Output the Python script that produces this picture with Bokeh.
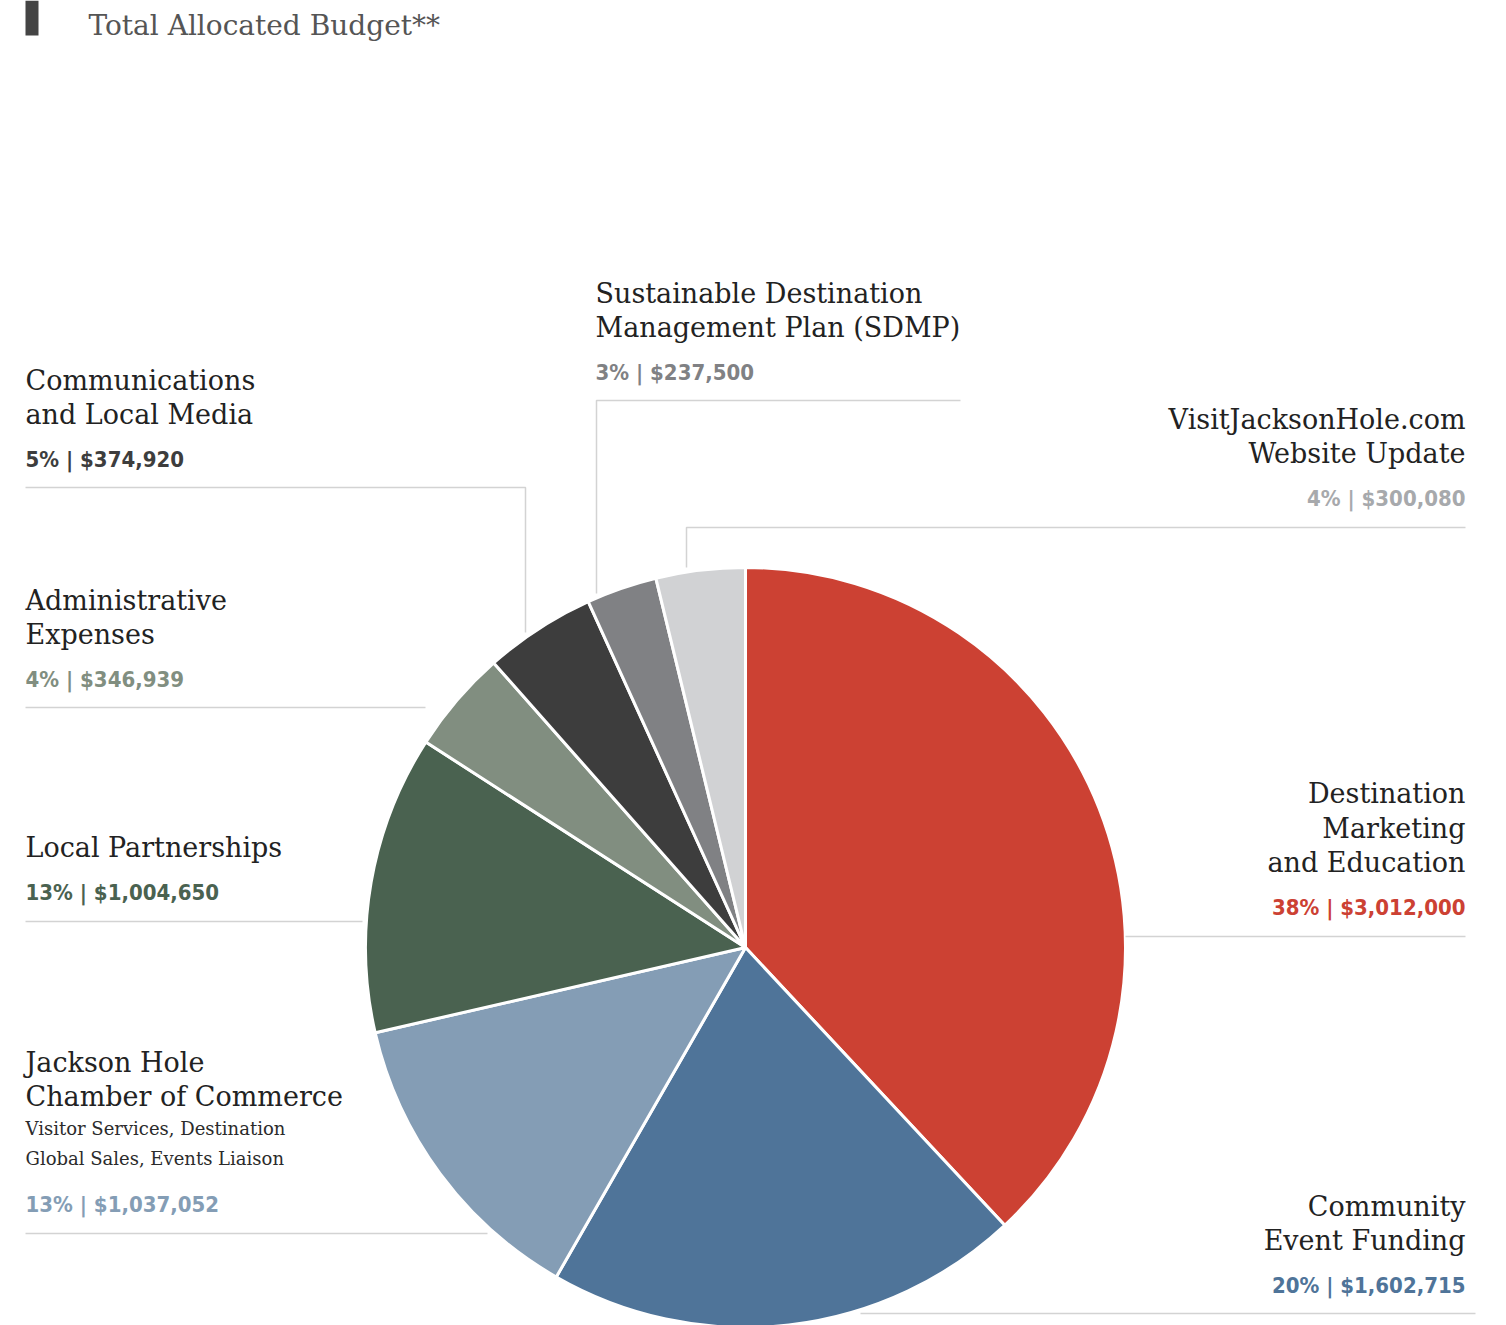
import numpy as np
from bokeh.plotting import figure
from bokeh.models import Range1d, ColumnDataSource
from bokeh.core.properties import value
from bokeh.embed import file_html
from bokeh.resources import INLINE

# ---- data -------------------------------------------------------------
categories = [
    "Destination Marketing and Education",
    "Community Event Funding",
    "Jackson Hole Chamber of Commerce",
    "Local Partnerships",
    "Administrative Expenses",
    "Communications and Local Media",
    "Sustainable Destination Management Plan (SDMP)",
    "VisitJacksonHole.com Website Update",
]
amounts = [3012000, 1602715, 1037052, 1004650, 346939, 374920, 237500, 300080]
slice_colors = ["#cc4133", "#4f7499", "#849db5", "#4a6250",
                "#818e80", "#3d3d3d", "#808184", "#d1d2d4"]
value_colors = ["#cc4133", "#4f7499", "#849db5", "#4a6250",
                "#818e80", "#3d3d3d", "#808184", "#a7a9ac"]
title_lines = [
    ["Destination", "Marketing", "and Education"],
    ["Community", "Event Funding"],
    ["Jackson Hole", "Chamber of Commerce"],
    ["Local Partnerships"],
    ["Administrative", "Expenses"],
    ["Communications", "and Local Media"],
    ["Sustainable Destination", "Management Plan (SDMP)"],
    ["VisitJacksonHole.com", "Website Update"],
]
sub_lines = [[], [], ["Visitor Services, Destination", "Global Sales, Events Liaison"],
             [], [], [], [], []]

# ---- page geometry (screen pixels, y measured from the top) ---------
W, H = 1506, 1325
CX, CY, R = 745, 947, 380

def Y(py):
    return H - py

# label anchor: x, alignment, vertical centre of the value line
label_pos = [
    (1465, "right", 907),
    (1465, "right", 1285),
    (25, "left", 1204),
    (25, "left", 892),
    (25, "left", 679),
    (25, "left", 459),
    (595, "left", 372),
    (1465, "right", 498),
]
# leader lines (polyline points)
leaders = [
    [(1125, 936), (1465, 936)],
    [(860, 1313), (1475, 1313)],
    [(25, 1233), (487, 1233)],
    [(25, 921), (362, 921)],
    [(25, 707), (425, 707)],
    [(25, 487), (525, 487), (525, 632)],
    [(960, 400), (596, 400), (596, 593)],
    [(1465, 527), (686, 527), (686, 567)],
]

SERIF = value("DejaVu Serif")
COND = value("'Liberation Sans Narrow', 'DejaVu Sans Condensed', 'Roboto', sans-serif")
TITLE_SIZE = "27px"
SUB_SIZE = "18px"
VAL_SIZE = "22px"
LINE_GAP = 34.5

p = figure(width=W, height=H, x_range=Range1d(0, W), y_range=Range1d(0, H),
           output_backend="svg", toolbar_location=None, min_border=0,
           x_axis_type=None, y_axis_type=None, outline_line_color=None,
           background_fill_color="white", border_fill_color="white")
p.grid.visible = False

# ---- pie wedges, clockwise from 12 o'clock ---------------------------
total = float(sum(amounts))
fracs = np.array(amounts) / total
cum = np.concatenate([[0.0], np.cumsum(fracs)])
ang_hi = np.pi / 2 - 2 * np.pi * cum[:-1]
ang_lo = np.pi / 2 - 2 * np.pi * cum[1:]
src = ColumnDataSource(dict(start=ang_lo, end=ang_hi, color=slice_colors, name=categories))
p.wedge(x=CX, y=Y(CY), radius=R, start_angle="start", end_angle="end",
        fill_color="color", line_color="white", line_width=3, source=src)

# ---- leader lines ----------------------------------------------------
p.multi_line(xs=[[pt[0] for pt in l] for l in leaders],
             ys=[[Y(pt[1]) for pt in l] for l in leaders],
             line_color="#d3d3d3", line_width=1.5)

# ---- labels ----------------------------------------------------------
pct = [f"{round(100 * a / total):d}%" for a in amounts]
for i in range(len(categories)):
    x, align, vy = label_pos[i]
    p.text(x=[x], y=[Y(vy)], text=[f"{pct[i]} | ${amounts[i]:,}"],
           text_font=COND, text_font_style="bold", text_font_size=VAL_SIZE,
           text_color=value_colors[i], text_align=align, text_baseline="middle")
    subs = sub_lines[i]
    if subs:
        sub_mid = [vy - 46 - 30 * (len(subs) - 1 - k) for k in range(len(subs))]
        p.text(x=[x] * len(subs), y=[Y(b) for b in sub_mid], text=subs,
               text_font=SERIF, text_font_size=SUB_SIZE, text_color="#2b2b2b",
               text_align=align, text_baseline="middle")
        last_title = sub_mid[0] - 32
    else:
        last_title = vy - 45
    tl = title_lines[i]
    mids = [last_title - LINE_GAP * (len(tl) - 1 - k) for k in range(len(tl))]
    p.text(x=[x] * len(tl), y=[Y(b) for b in mids], text=tl,
           text_font=SERIF, text_font_size=TITLE_SIZE, text_color="#222222",
           text_align=align, text_baseline="middle")

# ---- heading ---------------------------------------------------------
p.quad(left=[25], right=[38], bottom=[Y(35)], top=[Y(0)], fill_color="#444444", line_color=None)
p.text(x=[88], y=[Y(25)], text=["Total Allocated Budget**"], text_font=SERIF,
       text_font_size="28px", text_color="#555555", text_baseline="middle")

open("out.html", "w").write(file_html(p, INLINE))
